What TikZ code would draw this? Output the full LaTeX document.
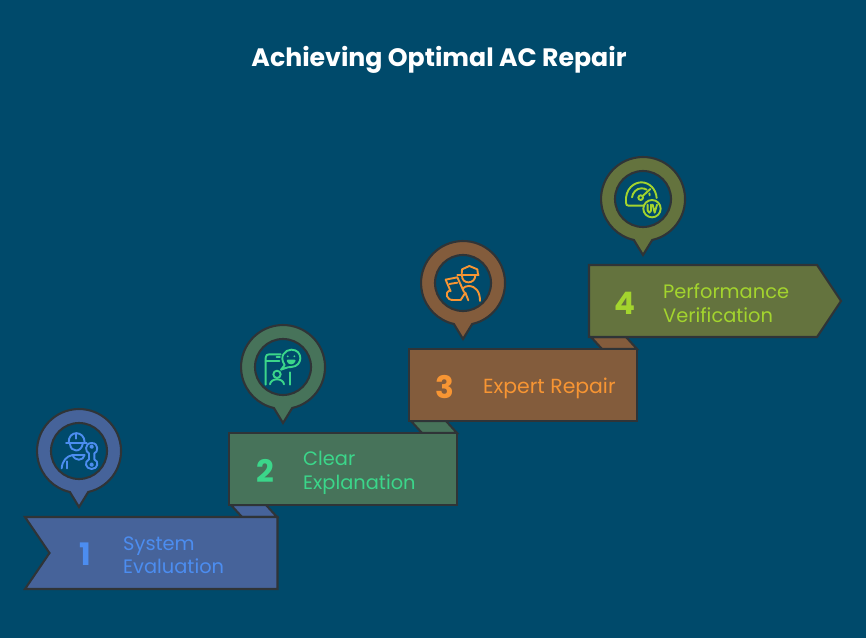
\documentclass[tikz,border=0pt]{standalone}
\usepackage{fontspec}
\setmainfont{Poppins}
\definecolor{bgc}{HTML}{004A6B}
\definecolor{edgec}{HTML}{2F3437}
\definecolor{fillA}{HTML}{46639A}
\definecolor{fillB}{HTML}{47735A}
\definecolor{fillC}{HTML}{835C3C}
\definecolor{fillD}{HTML}{64733E}
\definecolor{inkA}{HTML}{4C8DF0}
\definecolor{inkB}{HTML}{3BD68A}
\definecolor{inkC}{HTML}{F79533}
\definecolor{inkD}{HTML}{A3D42E}
\tikzset{
  shapeline/.style={draw=edgec,line width=2.1pt,line join=miter},
  iconline/.style={line width=1.9pt,line cap=round,line join=round},
  numlabel/.style={font=\fontsize{31}{32}\selectfont\bfseries,inner sep=0pt,anchor=center},
  steplabel/.style={font=\fontsize{19.4}{23.5}\selectfont,inner sep=0pt,anchor=west,align=left},
}
\newcommand{\pinat}[4]{%
  \begin{scope}[shift={(#1,#2)}]
    \draw[shapeline,fill=#3] (9.2,-41) arc[start angle=-77.4,end angle=257.4,radius=42] -- (0,-56) -- cycle;
    \draw[shapeline,fill=bgc] (0,0) circle[radius=28];
  \end{scope}}
\begin{document}
\begin{tikzpicture}[x=1pt,y=1pt]
\useasboundingbox (0,0) rectangle (866,638);
\fill[bgc] (0,0) rectangle (866,638);
\node[font=\fontsize{25.2}{28}\selectfont\bfseries,text=white,inner sep=0pt] (title) at (439,578) {Achieving Optimal AC Repair};
% folds
\draw[shapeline,fill=fillC] (591,301) -- (602,289) -- (637,289) -- (626,301) -- cycle;
\draw[shapeline,fill=fillB] (411,217) -- (422,205) -- (457,205) -- (446,217) -- cycle;
\draw[shapeline,fill=fillA] (231,133) -- (242,121) -- (277,121) -- (266,133) -- cycle;
% banners
\draw[shapeline,fill=fillA] (25,121) -- (277.5,121) -- (277.5,49) -- (25,49) -- (49.5,85) -- cycle;
\draw[shapeline,fill=fillB] (229,205) rectangle (457,133);
\draw[shapeline,fill=fillC] (409,289) rectangle (637,217);
\draw[shapeline,fill=fillD] (589,373) -- (817,373) -- (841,337) -- (817,301) -- (589,301) -- cycle;
% pins
\pinat{79}{187}{fillA}{inkA}
\pinat{283}{271}{fillB}{inkB}
\pinat{463}{355}{fillC}{inkC}
\pinat{643}{439}{fillD}{inkD}
% icon 1
\begin{scope}[shift={(79,187)},x=0.3333pt,y=-0.3333pt,shift={(-207,-153)},iconline,draw=inkA]
  \draw (176,128) .. controls (174,90) and (224,90) .. (224,128);
  \draw (168,128) -- (230,128);
  \draw (197,100) -- (197,116);
  \draw (180,132) .. controls (182,158) and (214,158) .. (218,132);
  \draw (155,205) .. controls (157,182) and (170,168) .. (188,165);
  \draw (172,205) -- (172,184);
  \draw (188,165) -- (224,165) .. controls (220,184) and (194,184) .. (188,165);
  \draw (245,129) .. controls (222,129) and (226,158) .. (237,160) -- (237,178) .. controls (222,184) and (226,207) .. (245,207)
     .. controls (264,207) and (268,184) .. (253,178) -- (253,160) .. controls (264,158) and (268,129) .. (245,129) -- cycle;
  \draw (245,140) circle[radius=4];
  \draw (245,194) circle[radius=4];
\end{scope}
% icon 2
\begin{scope}[shift={(283,271)},x=0.3333pt,y=-0.3333pt,shift={(-189,-140)},iconline,draw=inkB]
  \draw (137,193) -- (137,112) .. controls (137,105) and (141,102) .. (147,102) -- (182,102);
  \draw (137,122) -- (178,122);
  \draw (170,111) -- (180,111);
  \draw (210,156) -- (210,193);
  \draw (183,148) -- (194,134) .. controls (176,108) and (196,88) .. (214,88) .. controls (250,88) and (250,138) .. (214,140) .. controls (207,141) and (202,140) .. (197,143) -- cycle;
  \fill[inkB] (203,108) circle[radius=3];
  \fill[inkB] (223,108) circle[radius=3];
  \draw[fill=inkB] (203,121) .. controls (206,132) and (220,132) .. (224,121) -- cycle;
  \draw (171,162) circle[radius=11];
  \draw (150,192) .. controls (152,172) and (190,172) .. (192,192);
\end{scope}
% icon 3
\begin{scope}[shift={(463,355)},x=0.3333pt,y=-0.3333pt,shift={(-189,-143)},iconline,draw=inkC]
  \draw (185,118) -- (186,102) -- (208,92) -- (232,102) -- (234,118);
  \draw (172,118) -- (236,118);
  \draw (186,120) .. controls (184,148) and (226,148) .. (226,120);
  \draw (240,197) .. controls (240,170) and (228,152) .. (205,152) .. controls (198,152) and (193,155) .. (188,160);
  \draw (137,133) -- (172,126);
  \draw (137,133) -- (152,168);
  \draw (172,126) -- (192,170);
  \draw (148,146) -- (172,142);
  \draw (150,165) .. controls (132,172) and (140,195) .. (160,194) -- (182,194) -- (196,172);
  \draw (196,172) -- (205,195);
\end{scope}
% icon 4
\begin{scope}[shift={(643,439)},x=0.3333pt,y=-0.3333pt,shift={(-189,-145)},iconline,draw=inkD]
  \draw (190,165) -- (146,165) .. controls (140,165) and (138,162) .. (138,156) .. controls (134,112) and (165,95) .. (184,95) .. controls (208,95) and (228,115) .. (230,142);
  \draw (156,140) .. controls (158,125) and (170,113) .. (184,113) .. controls (190,113) and (195,114) .. (200,117);
  \draw (182,141) circle[radius=7];
  \draw (188,136) -- (211,115);
  \draw (208,128) -- (209,134);
  \draw (216,174) circle[radius=26];
  \draw (203,162) -- (203,180) .. controls (203,188) and (213,188) .. (213,180) -- (213,162);
  \draw (218,162) -- (224,186) -- (231,162);
\end{scope}
% labels
\node[numlabel,text=inkA] (n1) at (85,84) {1};
\node[numlabel,text=inkB] (n2) at (265,167) {2};
\node[numlabel,text=inkC] (n3) at (445,251) {3};
\node[numlabel,text=inkD] (n4) at (625,335) {4};
\node[steplabel,text=inkA] (t1) at (123,83) {System\\Evaluation};
\node[steplabel,text=inkB] (t2) at (303,165) {Clear\\Explanation};
\node[steplabel,text=inkC,font=\fontsize{20.4}{23.5}\selectfont] (t3) at (483,250) {Expert Repair};
\node[steplabel,text=inkD] (t4) at (663,335) {Performance\\Verification};
\end{tikzpicture}
\end{document}
